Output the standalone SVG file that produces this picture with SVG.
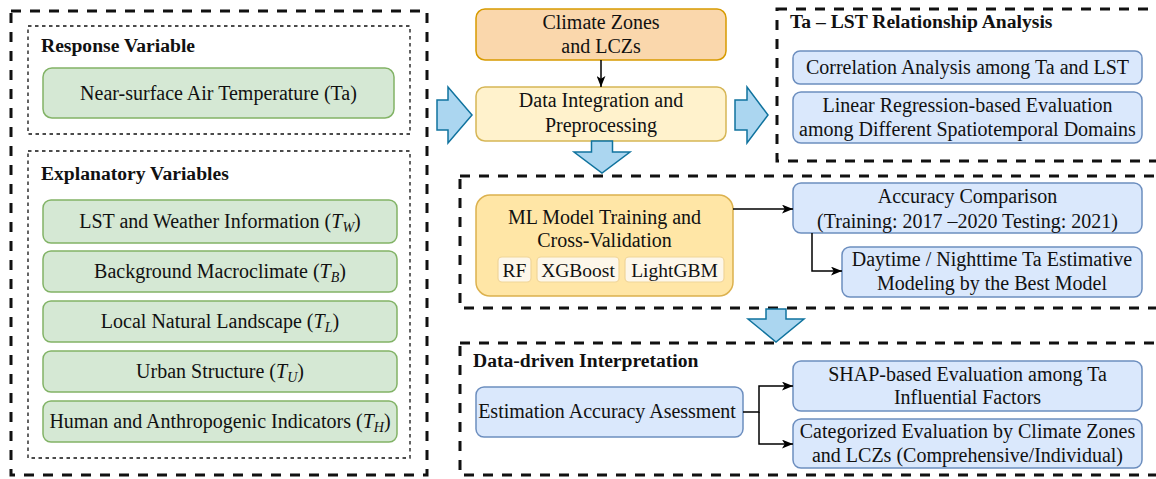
<svg xmlns="http://www.w3.org/2000/svg" width="1156" height="479" viewBox="0 0 1156 479">
  <style>
    text { font-family: "Liberation Serif", "Times New Roman", serif; font-size: 20px; fill: #111; }
    .c { text-anchor: middle; }
    .title { font-weight: bold; font-size: 19.6px; }
    .sub { font-size: 19.5px; }
    .i { font-style: italic; }
    .s { font-style: italic; font-size: 14px; }
    .panel { fill: none; stroke: #111; stroke-width: 3; stroke-dasharray: 10 9; }
    .group { fill: none; stroke: #111; stroke-width: 1.3; stroke-dasharray: 3.5 3.5; }
    .green { fill: #d5e8d4; stroke: #82b366; stroke-width: 1.5; }
    .blue { fill: #dae8fc; stroke: #6c8ebf; stroke-width: 1.5; }
    .orange { fill: #fad7ac; stroke: #d79b00; stroke-width: 1.5; }
    .yellow { fill: #fff2cc; stroke: #d6b656; stroke-width: 1.5; }
    .ml { fill: #ffe6a6; stroke: #dcb14e; stroke-width: 1.5; }
    .tag { fill: #fdf7ea; stroke: #f0d598; stroke-width: 1.2; }
    .flow { fill: #abd6f0; stroke: #10739e; stroke-width: 1.5; stroke-linejoin: miter; }
    .edge { fill: none; stroke: #000; stroke-width: 1.5; marker-end: url(#arrow); }
  </style>
  <defs>
    <marker id="arrow" viewBox="0 0 10 8" refX="10" refY="4" markerWidth="11" markerHeight="9" markerUnits="userSpaceOnUse" orient="auto">
      <path d="M0,0 L10,4 L0,8 L2.5,4 z" fill="#000"/>
    </marker>
  </defs>

  <!-- panels -->
  <g id="panels">
    <rect class="panel" x="11" y="11" width="416" height="464"/>
    <rect class="group" x="28" y="26" width="382" height="108"/>
    <rect class="group" x="28" y="151" width="382" height="307"/>
    <rect class="panel" x="777" y="9" width="400" height="152"/>
    <rect class="panel" x="460" y="176" width="720" height="132"/>
    <rect class="panel" x="460" y="343" width="720" height="132"/>
  </g>

  <!-- panel titles -->
  <g id="titles">
    <text class="title" x="41" y="52">Response Variable</text>
    <text class="title" x="41" y="180">Explanatory Variables</text>
    <text class="title" x="790" y="28">Ta – LST Relationship Analysis</text>
    <text class="title" x="473" y="367">Data-driven Interpretation</text>
  </g>

  <!-- variables -->
  <g id="node-ta">
    <rect class="green" x="43" y="68" width="351" height="50" rx="9"/>
    <text class="c" x="218.5" y="99.5">Near-surface Air Temperature (Ta)</text>
  </g>
  <g id="node-tw">
    <rect class="green" x="43" y="200" width="354" height="43" rx="8"/>
    <text class="c" x="220" y="228">LST and Weather Information (<tspan class="i">T</tspan><tspan class="s" dy="4">W</tspan><tspan dy="-4">)</tspan></text>
  </g>
  <g id="node-tb">
    <rect class="green" x="43" y="251" width="354" height="41" rx="8"/>
    <text class="c" x="220" y="278">Background Macroclimate (<tspan class="i">T</tspan><tspan class="s" dy="4">B</tspan><tspan dy="-4">)</tspan></text>
  </g>
  <g id="node-tl">
    <rect class="green" x="43" y="301" width="354" height="41" rx="8"/>
    <text class="c" x="220" y="328">Local Natural Landscape (<tspan class="i">T</tspan><tspan class="s" dy="4">L</tspan><tspan dy="-4">)</tspan></text>
  </g>
  <g id="node-tu">
    <rect class="green" x="43" y="351" width="354" height="41" rx="8"/>
    <text class="c" x="220" y="378">Urban Structure (<tspan class="i">T</tspan><tspan class="s" dy="4">U</tspan><tspan dy="-4">)</tspan></text>
  </g>
  <g id="node-th">
    <rect class="green" x="43" y="401" width="354" height="41" rx="8"/>
    <text class="c" x="220" y="428">Human and Anthropogenic Indicators (<tspan class="i">T</tspan><tspan class="s" dy="4">H</tspan><tspan dy="-4">)</tspan></text>
  </g>

  <!-- data preparation -->
  <g id="node-zones">
    <rect class="orange" x="476" y="9" width="250" height="51" rx="9"/>
    <text class="c" x="601" y="28.5">Climate Zones</text>
    <text class="c" x="601" y="53">and LCZs</text>
  </g>
  <g id="node-integration">
    <rect class="yellow" x="476" y="87" width="250" height="54" rx="9"/>
    <text class="c" x="601" y="107">Data Integration and</text>
    <text class="c" x="601" y="132">Preprocessing</text>
  </g>

  <!-- Ta-LST analysis -->
  <g id="node-correlation">
    <rect class="blue" x="793" y="51" width="349" height="33" rx="7"/>
    <text class="c" x="967.5" y="73.5">Correlation Analysis among Ta and LST</text>
  </g>
  <g id="node-regression">
    <rect class="blue" x="793" y="92" width="349" height="51" rx="8"/>
    <text class="c" x="967.5" y="112">Linear Regression-based Evaluation</text>
    <text class="c" x="967.5" y="136">among Different Spatiotemporal Domains</text>
  </g>

  <!-- modelling -->
  <g id="node-ml">
    <rect class="ml" x="476" y="195" width="257" height="101" rx="14"/>
    <text class="c" x="604.5" y="224">ML Model Training and</text>
    <text class="c" x="604.5" y="247">Cross-Validation</text>
    <rect class="tag" x="498" y="257" width="33" height="25" rx="4"/>
    <text class="c sub" x="514.5" y="277">RF</text>
    <rect class="tag" x="537" y="257" width="82" height="25" rx="4"/>
    <text class="c sub" x="578" y="277">XGBoost</text>
    <rect class="tag" x="625" y="257" width="99" height="25" rx="4"/>
    <text class="c sub" x="674.5" y="277">LightGBM</text>
  </g>
  <g id="node-accuracy">
    <rect class="blue" x="793" y="183" width="349" height="50" rx="8"/>
    <text class="c" x="967.5" y="203">Accuracy Comparison</text>
    <text class="c" x="967.5" y="228">(Training: 2017 –2020 Testing: 2021)</text>
  </g>
  <g id="node-daynight">
    <rect class="blue" x="842" y="247" width="300" height="50" rx="8"/>
    <text class="c" x="992" y="265.5">Daytime / Nighttime Ta Estimative</text>
    <text class="c" x="992" y="290">Modeling by the Best Model</text>
  </g>

  <!-- interpretation -->
  <g id="node-assessment">
    <rect class="blue" x="476" y="387" width="267" height="50" rx="8"/>
    <text class="c" x="607" y="418">Estimation Accuracy Asessment</text>
  </g>
  <g id="node-shap">
    <rect class="blue" x="793" y="361" width="349" height="50" rx="8"/>
    <text class="c" x="967.5" y="380.5">SHAP-based Evaluation among Ta</text>
    <text class="c" x="967.5" y="404">Influential Factors</text>
  </g>
  <g id="node-categorized">
    <rect class="blue" x="793" y="419" width="349" height="49" rx="8"/>
    <text class="c" x="967.5" y="437.5">Categorized Evaluation by Climate Zones</text>
    <text class="c" x="967.5" y="462">and LCZs (Comprehensive/Individual)</text>
  </g>

  <!-- connectors -->
  <g id="connectors">
    <polygon class="flow" points="437,100 448,100 448,87 472,115 448,143 448,130 437,130"/>
    <polygon class="flow" points="735,100 747,100 747,87 768,115 747,143 747,130 735,130"/>
    <polygon class="flow" points="591.5,141 612.5,141 612.5,152 630,152 602,173 574,152 591.5,152"/>
    <polygon class="flow" points="766,309 786,309 786,319 804,319 776,342 748,319 766,319"/>
    <path class="edge" d="M601,60 L601,87"/>
    <path class="edge" d="M733,209 L793,209"/>
    <path class="edge" d="M812,233 L812,271 L842,271"/>
    <path class="edge" d="M743,412 L759,412 L759,386 L793,386"/>
    <path class="edge" d="M759,412 L759,444 L793,444"/>
  </g>
</svg>
